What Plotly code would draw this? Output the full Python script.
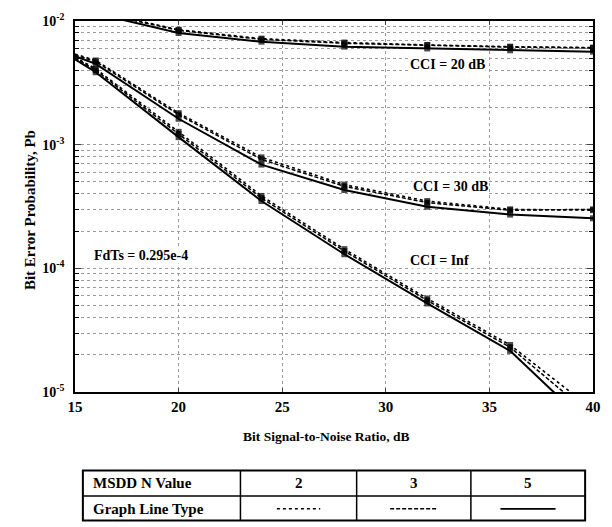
import plotly.graph_objects as go

# ---------------- data ----------------
snr_db = [15, 16, 20, 24, 28, 32, 36, 40]
marker_size = [0, 6, 6, 6, 6, 6, 6, 6]

# CCI = 20 dB
cci20_n2 = [1.35e-2, 1.20e-2, 8.5e-3, 7.2e-3, 6.7e-3, 6.4e-3, 6.2e-3, 6.1e-3]
cci20_n3 = [1.33e-2, 1.18e-2, 8.4e-3, 7.1e-3, 6.6e-3, 6.35e-3, 6.15e-3, 6.05e-3]
cci20_n5 = [1.30e-2, 1.15e-2, 8.0e-3, 6.8e-3, 6.2e-3, 6.0e-3, 5.8e-3, 5.65e-3]

# CCI = 30 dB
cci30_n2 = [5.4e-3, 4.8e-3, 1.80e-3, 7.9e-4, 4.75e-4, 3.5e-4, 3.0e-4, 2.95e-4]
cci30_n3 = [5.3e-3, 4.7e-3, 1.75e-3, 7.6e-4, 4.6e-4, 3.4e-4, 2.95e-4, 3.0e-4]
cci30_n5 = [5.2e-3, 4.5e-3, 1.62e-3, 6.9e-4, 4.3e-4, 3.15e-4, 2.72e-4, 2.54e-4]

# CCI = Inf
cciinf_n2 = [5.1e-3, 4.1e-3, 1.27e-3, 3.85e-4, 1.43e-4, 5.7e-5, 2.4e-5, 7.2e-6]
cciinf_n3 = [5.0e-3, 4.0e-3, 1.22e-3, 3.7e-4, 1.38e-4, 5.5e-5, 2.3e-5, 6.3e-6]
cciinf_n5 = [4.9e-3, 3.85e-3, 1.15e-3, 3.5e-4, 1.30e-4, 5.2e-5, 2.15e-5, 5.0e-6]

x_ticks = [15, 20, 25, 30, 35, 40]
y_ticks = [1e-5, 1e-4, 1e-3, 1e-2]
y_ticktext = ["10<sup>-5</sup>", "10<sup>-4</sup>", "10<sup>-3</sup>", "10<sup>-2</sup>"]
y_minor = [m * 10.0 ** e for e in range(-5, -2) for m in range(2, 10)]

curve_labels = ["CCI = 20 dB", "CCI = 30 dB", "CCI = Inf"]
note_text = "FdTs = 0.295e-4"
n_values = ["2", "3", "5"]

# ---------------- style ----------------
FONT = "Liberation Serif"
styles = {
    "2": dict(dash="dot", width=1.6),
    "3": dict(dash="4px,2px", width=1.5),
    "5": dict(dash="solid", width=2.0),
}

fig = go.Figure()
groups = [
    (cci20_n2, cci20_n3, cci20_n5),
    (cci30_n2, cci30_n3, cci30_n5),
    (cciinf_n2, cciinf_n3, cciinf_n5),
]
for g in groups:
    for n, vals in zip(n_values, g):
        st = styles[n]
        fig.add_trace(go.Scatter(
            x=snr_db, y=vals, mode="lines+markers",
            line=dict(color="black", dash=st["dash"], width=st["width"]),
            marker=dict(color="black", size=marker_size, symbol="square",
                        line=dict(width=0)),
            showlegend=False, cliponaxis=True, hoverinfo="skip",
        ))

grid = dict(showgrid=True, gridcolor="#9a9a9a", griddash="dot", gridwidth=1)

fig.update_xaxes(
    range=[15, 40], tickvals=x_ticks, ticks="inside", ticklen=4,
    showline=True, linecolor="black", linewidth=1.5, mirror="ticks",
    tickfont=dict(family=FONT, size=15, color="black", weight="bold"),
    zeroline=False, **grid,
)
fig.update_yaxes(
    type="log", range=[-5, -2], tickvals=y_ticks, ticktext=y_ticktext,
    ticks="inside", ticklen=6, ticklabelstandoff=6,
    showline=True, linecolor="black", linewidth=1.5, mirror="ticks",
    tickfont=dict(family=FONT, size=14, color="black", weight="bold"),
    minor=dict(tickmode="array", tickvals=y_minor, ticks="inside", ticklen=4,
               tickcolor="black", showgrid=True, gridcolor="#9a9a9a",
               griddash="dot", gridwidth=1),
    **grid,
)

ann_font = dict(family=FONT, size=14, color="black", weight="bold")
ann_pos = [(33.0, -2.35), (33.1, -3.34), (32.6, -3.94)]
for txt_s, (ax, ay) in zip(curve_labels, ann_pos):
    fig.add_annotation(x=ax, y=ay, xref="x", yref="y", text=txt_s,
                       xanchor="center", yanchor="middle",
                       showarrow=False, font=ann_font, bgcolor="white", borderpad=0)
fig.add_annotation(x=18.2, y=-3.9, xref="x", yref="y", text=note_text,
                   xanchor="center", yanchor="middle",
                   showarrow=False, font=dict(family=FONT, size=14, color="black", weight="bold"),
                   bgcolor="white", borderpad=0)

# axis titles
W, H = 612, 527
L, R, T, B = 75, 11, 14, 135
pw, ph = W - L - R, H - T - B


def px(xp):
    return (xp - L) / pw


def py(yp):
    return (H - B - yp) / ph


def txt(x, y, s, size=13, anchor="center", angle=0):
    fig.add_annotation(x=px(x), y=py(y), xref="paper", yref="paper", text=s,
                       xanchor=anchor, yanchor="middle", textangle=angle,
                       showarrow=False,
                       font=dict(family=FONT, size=size, color="black", weight="bold"))


txt(330, 437, "Bit Signal-to-Noise Ratio, dB", 13.5)
txt(30, 207, "Bit Error Probability, Pb", 15, angle=-90)

# table legend
cols = [83, 243, 361, 477, 593]
rows = [472, 498, 523]
shapes = []
shapes.append(dict(type="rect", xref="paper", yref="paper",
                   x0=px(cols[0]), x1=px(cols[-1]), y0=py(rows[0]), y1=py(rows[-1]),
                   line=dict(color="black", width=2)))
for c in cols[1:-1]:
    shapes.append(dict(type="line", xref="paper", yref="paper",
                       x0=px(c), x1=px(c), y0=py(rows[0]), y1=py(rows[-1]),
                       line=dict(color="black", width=1.5)))
shapes.append(dict(type="line", xref="paper", yref="paper",
                   x0=px(cols[0]), x1=px(cols[-1]), y0=py(rows[1]), y1=py(rows[1]),
                   line=dict(color="black", width=1.5)))
sample_len = [44, 48, 56]
for i, n in enumerate(n_values):
    cx = (cols[i + 1] + cols[i + 2]) / 2
    st = styles[n]
    shapes.append(dict(type="line", xref="paper", yref="paper",
                       x0=px(cx - sample_len[i] / 2), x1=px(cx + sample_len[i] / 2),
                       y0=py(511), y1=py(511),
                       line=dict(color="black", width=st["width"] if n != "5" else 1.8,
                                 dash=st["dash"])))
    txt(cx, 485, n, 15)
txt(91, 485, "MSDD N Value", 15, anchor="left")
txt(91, 511, "Graph Line Type", 15, anchor="left")

fig.update_layout(
    width=W, height=H, margin=dict(l=L, r=R, t=T, b=B),
    paper_bgcolor="white", plot_bgcolor="white", shapes=shapes,
    showlegend=False, hovermode=False,
)
fig.write_html(
    "out.html",
    config={"displayModeBar": False},
    post_script="document.body.style.margin='0px';document.body.style.overflow='hidden';",
)
